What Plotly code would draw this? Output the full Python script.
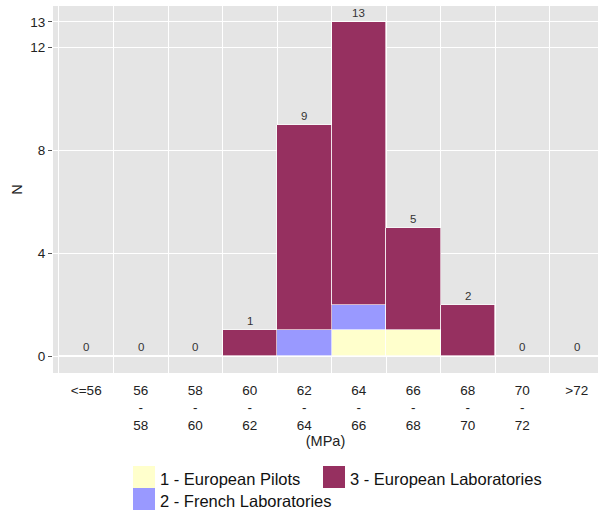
import plotly.graph_objects as go

bin_labels = ["<=56", "56-58", "58-60", "60-62", "62-64", "64-66", "66-68", "68-70", "70-72", ">72"]
series_names = ["1 - European Pilots", "2 - French Laboratories", "3 - European Laboratories"]
pilots = [0, 0, 0, 0, 0, 1, 1, 0, 0, 0]
french = [0, 0, 0, 0, 1, 1, 0, 0, 0, 0]
euro_labs = [0, 0, 0, 1, 8, 11, 4, 2, 0, 0]
series_values = [pilots, french, euro_labs]
series_colors = ["#FFFFCC", "#9999FF", "#963060"]
y_ticks = [0, 4, 8, 12, 13]

tick_text = [lab.replace("-", "<br>-<br>") if "-" in lab else lab for lab in bin_labels]
totals = [sum(v) for v in zip(*series_values)]

W, H = 598, 512
ml, mr, mt, mb = 53, 0, 6, 139
plot_w = W - ml - mr
plot_h = H - mt - mb


def px_to_paper(px, py):
    return (px - ml) / plot_w, (H - mb - py) / plot_h


fig = go.Figure()
for name, vals, col in zip(series_names, series_values, series_colors):
    fig.add_trace(go.Bar(
        x=bin_labels, y=vals, name=name, width=1,
        marker=dict(color=col, line=dict(color="rgba(255,255,255,0.8)", width=0.8)),
        showlegend=False, hoverinfo="skip",
    ))

for lab, tot in zip(bin_labels, totals):
    fig.add_annotation(x=lab, y=tot, text=str(tot), showarrow=False, yshift=9,
                       font=dict(size=11.5, color="#333333", family="Liberation Sans"))

# manual legend (ggplot style, column-major)
leg_items = [(0, 133, 466), (1, 133, 488), (2, 323, 466)]
for idx, px, py in leg_items:
    x0, y1 = px_to_paper(px, py)
    x1, y0 = px_to_paper(px + 22, py + 22)
    fig.add_shape(type="rect", xref="paper", yref="paper", x0=x0, x1=x1, y0=y0, y1=y1,
                  fillcolor=series_colors[idx], line=dict(width=0), layer="above")
    tx, ty = px_to_paper(px + 25, py + 13)
    fig.add_annotation(xref="paper", yref="paper", x=tx, y=ty,
                       text=series_names[idx], showarrow=False, xanchor="left", yanchor="middle",
                       font=dict(size=16.5, color="#111111", family="Liberation Sans"))

fig.update_layout(
    width=W, height=H,
    margin=dict(l=ml, r=mr, t=mt, b=mb, autoexpand=False),
    barmode="stack", bargap=0,
    plot_bgcolor="#E5E5E5", paper_bgcolor="white",
    font=dict(family="Liberation Sans", color="#222222"),
    xaxis=dict(
        type="category", range=[-0.61, 9.39], tickson="boundaries",
        tickvals=bin_labels, ticktext=tick_text,
        showgrid=True, gridcolor="white", gridwidth=1.2,
        ticks="", ticklabelstandoff=7, tickfont=dict(size=13.5, color="#222222"),
        title=dict(text="(MPa)", font=dict(size=14.5, color="#222222"), standoff=2),
        zeroline=False, showline=False, automargin=False,
    ),
    yaxis=dict(
        range=[-0.66, 13.62], tickvals=y_ticks,
        showgrid=True, gridcolor="white", gridwidth=1.2,
        ticks="outside", ticklen=4, tickcolor="#555555",
        tickfont=dict(size=13.5, color="#222222"),
        title=dict(text="N", font=dict(size=14.5, color="#222222"), standoff=4),
        zeroline=False, showline=False, automargin=False,
    ),
)

fig.write_html("out.html", config={"displayModeBar": False},
               post_script="document.body.style.margin='0';document.body.style.overflow='hidden';")
